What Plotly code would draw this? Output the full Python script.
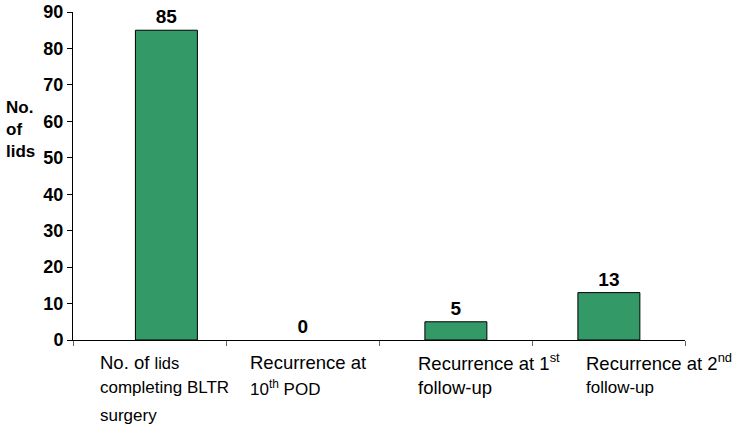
import plotly.graph_objects as go

categories = ["No. of lids completing BLTR surgery", "Recurrence at 10th POD",
              "Recurrence at 1st follow-up", "Recurrence at 2nd follow-up"]
values = [85, 0, 5, 13]
y_ticks = [0, 10, 20, 30, 40, 50, 60, 70, 80, 90]

# rich-text lines of each category label
cat_lines = [
    ["No. of <span style='font-size:16.5px'>lids</span>",
     "<span style='font-size:17px'>completing BLTR</span>",
     "<span style='font-size:17px'>surgery</span>"],
    ["Recurrence at", "<span style='font-size:17px'>10<sup>th</sup> POD</span>"],
    ["Recurrence at 1<sup>st</sup>", "follow-up"],
    ["Recurrence at 2<sup>nd</sup>", "<span style='font-size:17px'>follow-up</span>"],
]
label_x_shift = [-0.337, -0.356, -0.258, -0.16]
bar_offsets = [-0.092, -0.2, -0.2, -0.2]
bar_line_widths = [1, 0, 1, 1]

W, H = 738, 432
L, R, T, B = 73, 53, 12, 92
plot_h = H - T - B
plot_w = W - L - R

FONT = "Liberation Sans, Arial"

fig = go.Figure()
fig.add_trace(go.Bar(
    x=categories, y=values,
    width=0.405, offset=bar_offsets,
    marker=dict(color="#339966", line=dict(color="black", width=bar_line_widths)),
    text=[str(v) for v in values], textposition="outside",
    textfont=dict(family=FONT, size=19, color="black", weight="bold"),
    cliponaxis=False,
))

annotations = []
line_centers = [362, 388, 415]
for i, lines in enumerate(cat_lines):
    for j, ln in enumerate(lines):
        annotations.append(dict(
            x=i + label_x_shift[i], xref="x", xanchor="left",
            y=(H - B - line_centers[j]) / plot_h, yref="paper", yanchor="middle",
            text=ln, showarrow=False, align="left",
            font=dict(family=FONT, size=18.5, color="black"),
        ))
annotations.append(dict(
    x=(4 - L) / plot_w, xref="paper", xanchor="left",
    y=(H - B - 129) / plot_h, yref="paper", yanchor="middle",
    text="<b>No.<br>of<br>lids</b>", showarrow=False, align="left",
    font=dict(family=FONT, size=17, color="black"),
))

fig.update_layout(
    width=W, height=H,
    margin=dict(l=L, r=R, t=T, b=B, autoexpand=False),
    plot_bgcolor="white", paper_bgcolor="white",
    showlegend=False,
    annotations=annotations,
    font=dict(family=FONT, color="black"),
)
fig.update_xaxes(
    showticklabels=False, ticks="outside", tickson="boundaries", ticklen=5,
    tickcolor="#666", showline=True, linecolor="black", linewidth=1,
    showgrid=False, range=[-0.5, 3.5], automargin=False,
)
fig.update_yaxes(
    range=[0, 90], tickvals=y_ticks, ticks="outside", ticklen=5, tickcolor="black",
    showline=True, linecolor="black", linewidth=1, showgrid=False, zeroline=False,
    tickfont=dict(family=FONT, size=18, color="black", weight="bold"),
    automargin=False,
)

fig.write_html("out.html")
